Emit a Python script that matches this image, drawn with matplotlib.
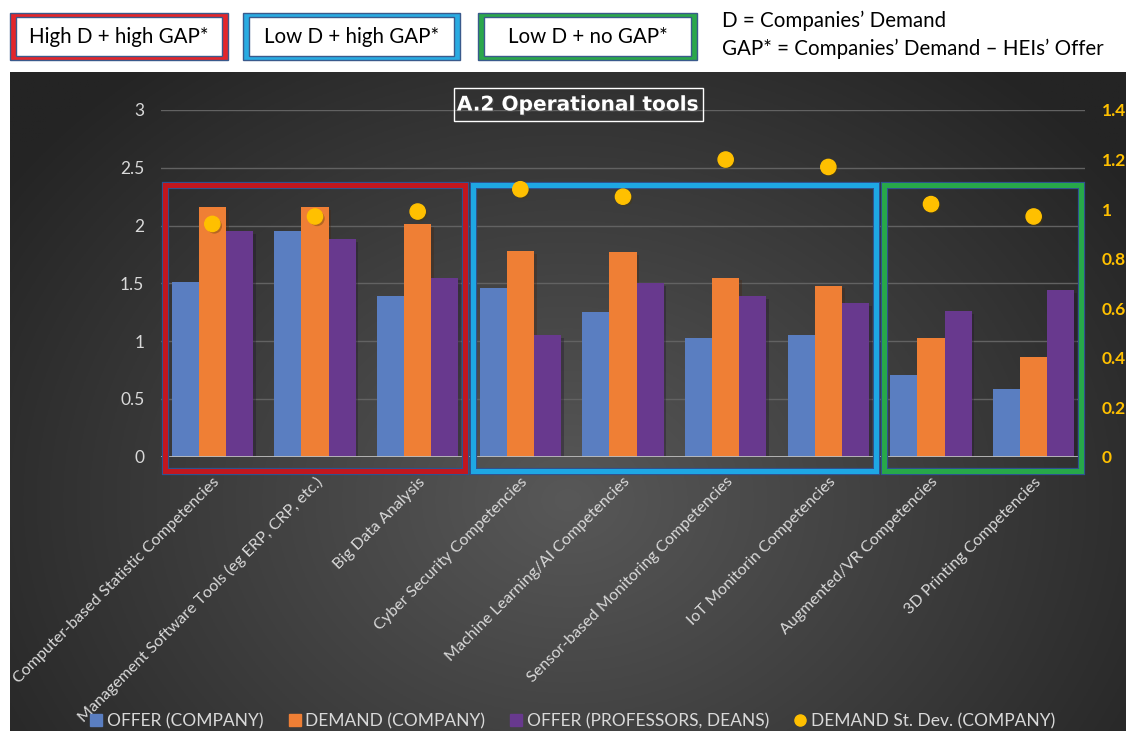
import numpy as np
import matplotlib
matplotlib.use("Agg")
import matplotlib.pyplot as plt
from matplotlib.patches import Rectangle
from matplotlib.lines import Line2D
import matplotlib.patheffects as pe

plt.rcParams['font.family'] = ['Lato', 'DejaVu Sans']

categories = [
    "Computer-based Statistic Competencies",
    "Management Software Tools (eg ERP, CRP, etc.)",
    "Big Data Analysis",
    "Cyber Security Competencies",
    "Machine Learning/AI Competencies",
    "Sensor-based Monitoring Competencies",
    "IoT Monitorin Competencies",
    "Augmented/VR Competencies",
    "3D Printing Competencies",
]
offer_company = [1.51, 1.95, 1.39, 1.46, 1.25, 1.03, 1.05, 0.71, 0.59]
demand_company = [2.16, 2.16, 2.01, 1.78, 1.77, 1.55, 1.48, 1.03, 0.86]
offer_prof = [1.95, 1.88, 1.55, 1.05, 1.50, 1.39, 1.33, 1.26, 1.44]
demand_sd = [0.94, 0.97, 0.99, 1.08, 1.05, 1.20, 1.17, 1.02, 0.97]

left_ticks = [0, 0.5, 1, 1.5, 2, 2.5, 3]
right_ticks = [0, 0.2, 0.4, 0.6, 0.8, 1, 1.2, 1.4]

# groups shown with coloured frames (first index, last index, colour)
groups = [(0, 2, '#C1171F'), (3, 6, '#1EA7E4'), (7, 8, '#27A84A')]

W, H = 1126, 731
fig = plt.figure(figsize=(W / 100, H / 100), dpi=100)
fig.patch.set_facecolor('white')

# dark gradient background of the chart
bg = fig.add_axes([10 / W, 0, 1 - 10 / W, (H - 72) / H])
yy, xx = np.mgrid[0:1:300j, 0:1:500j]
r = np.sqrt(((xx - 0.5) / 0.62) ** 2 + ((yy - 0.65) / 0.85) ** 2)
img = np.clip(88 - 52 * r, 36, 90) / 255.0
bg.imshow(np.dstack([img, img, img]), aspect='auto', extent=[0, 1, 0, 1], origin='upper')
bg.axis('off')

ax = fig.add_axes([161 / W, (H - 456.7) / H, (1085 - 161) / W, (456.7 - 110) / H])
ax.set_facecolor('none')
x = np.arange(len(categories))
bw = 0.263
shadow = [pe.SimplePatchShadow(offset=(2, -2), alpha=0.35), pe.Normal()]
b1 = ax.bar(x - bw, offer_company, bw, color='#5A7EC1', zorder=3)
b2 = ax.bar(x, demand_company, bw, color='#EF7F35', zorder=3)
b3 = ax.bar(x + bw, offer_prof, bw, color='#68398E', zorder=3)
for bars in (b1, b2, b3):
    for p in bars:
        p.set_path_effects(shadow)

ax.set_xlim(-0.5, len(categories) - 0.5)
ax.set_ylim(0, 3)
ax.set_yticks(left_ticks)
ax.set_yticklabels([f"{t:g}" for t in left_ticks])
ax.grid(axis='y', color='#626262', lw=1, zorder=0)
ax.axhline(0, color='#BDBDBD', lw=2, zorder=4)
for s in ax.spines.values():
    s.set_visible(False)
ax.tick_params(axis='y', length=0, pad=12, labelsize=12.5, labelcolor='#D9D9D9')
ax.tick_params(axis='x', length=0, pad=13)
ax.set_xticks(x)
ax.set_xticklabels(categories, rotation=45, ha='right', va='top',
                   rotation_mode='anchor', color='#D9D9D9', fontsize=11.6)

ax2 = ax.twinx()
ax2.set_ylim(0, 1.4)
ax2.set_yticks(right_ticks)
ax2.set_yticklabels([f"{t:g}" for t in right_ticks], fontweight='bold')
ax2.tick_params(axis='y', length=0, pad=12, labelsize=12.5, labelcolor='#FFC000')
for s in ax2.spines.values():
    s.set_visible(False)
ax2.scatter(x, demand_sd, s=120, color='#FFC000', zorder=6,
            path_effects=[pe.SimplePatchShadow(offset=(1.5, -1.5), alpha=0.35), pe.Normal()])

# coloured frames around the groups
for a, b, col in groups:
    for lw, c in ((5.2, '#2F528F'), (3.6, col)):
        ax.add_patch(Rectangle((a - 0.46, -0.12), b - a + 0.92, 2.47, fill=False,
                               ec=c, lw=lw, clip_on=False, zorder=7))

# legend
handles = [
    Line2D([], [], marker='s', ls='none', color='#5A7EC1', markersize=8),
    Line2D([], [], marker='s', ls='none', color='#EF7F35', markersize=8),
    Line2D([], [], marker='s', ls='none', color='#68398E', markersize=8),
    Line2D([], [], marker='o', ls='none', color='#FFC000', markersize=8),
]
labels = ["OFFER (COMPANY)", "DEMAND (COMPANY)", "OFFER (PROFESSORS, DEANS)",
          "DEMAND St. Dev. (COMPANY)"]
fig.legend(handles, labels, loc='center', bbox_to_anchor=(573 / W, 1 - 721 / H), ncol=4,
           frameon=False, fontsize=12.5, labelcolor='#D9D9D9', handlelength=0.6,
           handletextpad=0.3, columnspacing=1.5)

# overlay in pixel coordinates: title and key boxes on top
ov = fig.add_axes([0, 0, 1, 1])
ov.set_xlim(0, W)
ov.set_ylim(H, 0)
ov.axis('off')
ov.set_zorder(20)

ov.text(578, 105, "A.2 Operational tools", color='white', fontsize=14.5, fontweight='bold',
        family='DejaVu Sans', ha='center', va='center',
        path_effects=[pe.withSimplePatchShadow(offset=(1, -1), alpha=0.6)])
ov.add_patch(Rectangle((454, 88), 249, 33, fill=False, ec='white', lw=1))

keys = [(10, 228, '#E3262B', "High D + high GAP*"),
        (243, 460, '#29ABE2', "Low D + high GAP*"),
        (478, 697, '#2AA74B', "Low D + no GAP*")]
for x0, x1, col, txt in keys:
    ov.add_patch(Rectangle((x0, 13), x1 - x0, 47, fc=col, ec='#3A5A8C', lw=1))
    ov.add_patch(Rectangle((x0 + 6, 17), x1 - x0 - 12, 39, fc='white', ec='#3A5A8C', lw=1))
    ov.text((x0 + x1) / 2, 37, txt, fontsize=14.8, ha='center', va='center', color='black')

ov.text(722, 21, "D = Companies\u2019 Demand", fontsize=14.8, ha='left', va='center', color='black')
ov.text(722, 49, "GAP* = Companies\u2019 Demand \u2013 HEIs\u2019 Offer", fontsize=14.8,
        ha='left', va='center', color='black')

fig.savefig('out.png', dpi=100)
